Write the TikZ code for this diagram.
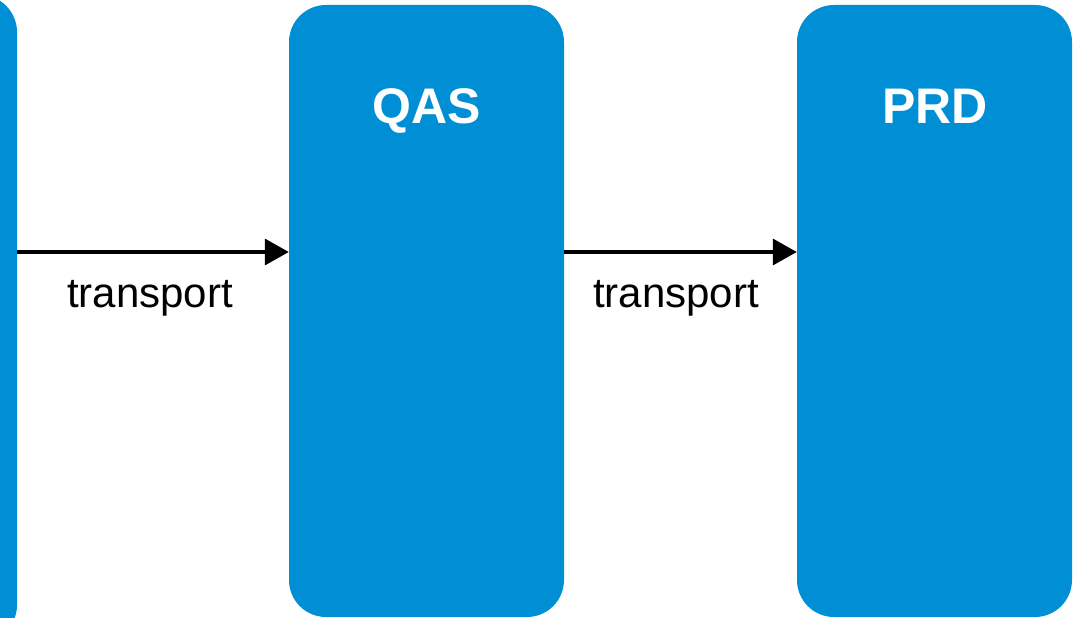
\documentclass[tikz,border=0pt]{standalone}
\usepackage{fontspec}
\setmainfont{Liberation Sans}
\usetikzlibrary{arrows.meta}
\definecolor{sysblue}{RGB}{0,143,213}
\begin{document}
\begin{tikzpicture}[x=1pt,y=-1pt,
  sysbox/.style={rectangle, fill=sysblue, draw=none, rounded corners=37pt,
    minimum width=275pt, minimum height=612pt, inner sep=0pt},
  systitle/.style={anchor=base, text=white, font=\fontsize{50}{60}\selectfont\bfseries, inner sep=0pt},
  conn/.style={draw=black, line width=3.5pt, -{Triangle[length=24pt,width=26pt]}},
  connlabel/.style={anchor=base, font=\fontsize{42}{50}\selectfont, inner sep=0pt}]
\useasboundingbox (0,0) rectangle (1077,618);
\clip (0,0) rectangle (1077,618);
\node[sysbox, minimum height=647pt] (dev) at (-120.5,318.5) {};
\node[sysbox] (qas) at (426.5,311) {};
\node[sysbox] (prd) at (934.5,311) {};
\node[systitle] (qast) at (427,123) {QAS};
\node[systitle] (prdt) at (935,123) {PRD};
\coordinate (ay) at (0,252);
\draw[conn] (dev.east |- ay) -- (qas.west |- ay);
\draw[conn] (qas.east |- ay) -- (prd.west |- ay);
\node[connlabel] (l1) at (150,307) {transport};
\node[connlabel] (l2) at (676,307) {transport};
\end{tikzpicture}
\end{document}
